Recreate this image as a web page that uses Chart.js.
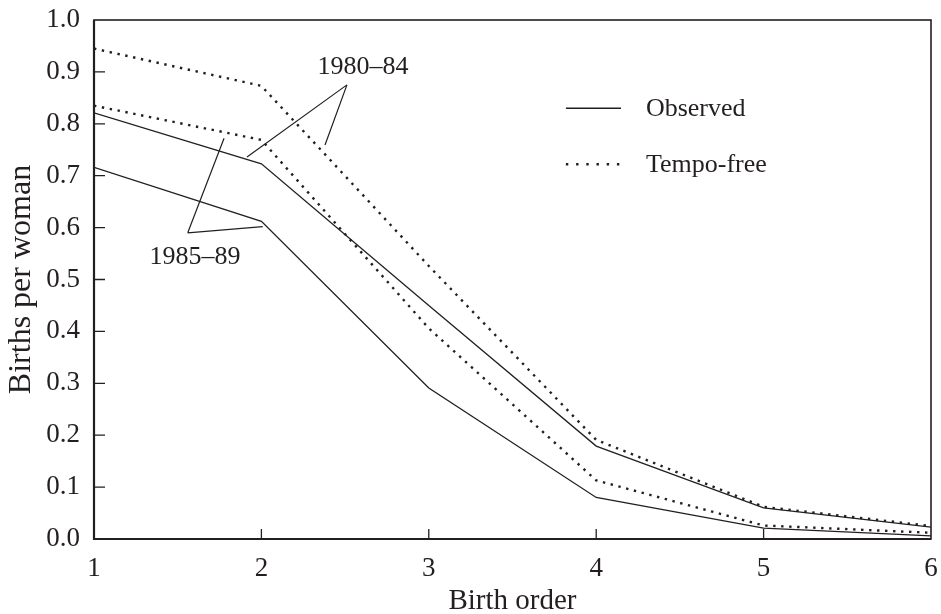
<!DOCTYPE html>
<html>
<head>
<meta charset="utf-8">
<script src="https://cdn.jsdelivr.net/npm/chart.js@4/dist/chart.umd.min.js"></script>
<style>
  html, body { margin: 0; padding: 0; background: #fff; }
  #wrap { width: 941px; height: 614px; }
</style>
</head>
<body>
<div id="wrap"><canvas id="chart"></canvas></div>
<script>
// birth order on x, births per woman on y
const birthOrder = [1, 2, 3, 4, 5, 6];
const observed8084 = [0.821, 0.723, 0.450, 0.179, 0.060, 0.023];
const tempoFree8084 = [0.945, 0.873, 0.526, 0.191, 0.062, 0.025];
const observed8589 = [0.716, 0.612, 0.291, 0.080, 0.021, 0.006];
const tempoFree8589 = [0.835, 0.769, 0.406, 0.113, 0.026, 0.012];

const yTicks = [0, 0.1, 0.2, 0.3, 0.4, 0.5, 0.6, 0.7, 0.8, 0.9, 1.0];
const xTicks = [1, 2, 3, 4, 5, 6];

const legendLabels = ['Observed', 'Tempo-free'];

// annotation anchors, in data units
const label8084 = { text: '1980–84', at: [2.607, 0.910], apex: [2.511, 0.875], ends: [[1.914, 0.736], [2.380, 0.759]] };
const label8589 = { text: '1985–89', at: [1.603, 0.543], apex: [1.560, 0.590], ends: [[1.777, 0.772], [2.008, 0.602]] };

const INK = '#231f20';
const FONT = 'Liberation Serif';
const DOTS = [2.4, 5.6];

const pts = ys => birthOrder.map((x, i) => ({ x: x, y: ys[i] }));

const solid = { borderColor: INK, borderWidth: 1.3, pointRadius: 0, fill: false, tension: 0 };
const dotted = { borderColor: INK, borderWidth: 2.4, borderDash: DOTS, borderCapStyle: 'butt', pointRadius: 0, fill: false, tension: 0 };

// keep the tick labels from pushing the plot area in
const noPad = s => { s.paddingLeft = 0; s.paddingRight = 0; s.paddingTop = 0; s.paddingBottom = 0; };

const frameAndNotes = {
  id: 'frameAndNotes',
  afterDraw(chart) {
    const { ctx, chartArea: a, scales: { x, y } } = chart;
    const px = v => x.getPixelForValue(v);
    const py = v => y.getPixelForValue(v);
    ctx.save();
    ctx.strokeStyle = INK;

    // frame
    ctx.lineWidth = 1.6;
    ctx.strokeRect(a.left, a.top, a.right - a.left, a.bottom - a.top);
    ctx.lineWidth = 2.2;
    ctx.beginPath();
    ctx.moveTo(a.left, a.top); ctx.lineTo(a.left, a.bottom); ctx.lineTo(a.right, a.bottom);
    ctx.stroke();

    // inward ticks
    ctx.lineWidth = 1.3;
    ctx.beginPath();
    yTicks.slice(1, -1).forEach(v => { ctx.moveTo(a.left, py(v)); ctx.lineTo(a.left + 11, py(v)); });
    xTicks.slice(1, -1).forEach(v => { ctx.moveTo(px(v), a.bottom); ctx.lineTo(px(v), a.bottom - 10); });
    ctx.stroke();

    // leader lines
    ctx.lineWidth = 1.2;
    [label8084, label8589].forEach(l => {
      ctx.beginPath();
      l.ends.forEach(e => {
        ctx.moveTo(px(l.apex[0]), py(l.apex[1]));
        ctx.lineTo(px(e[0]), py(e[1]));
      });
      ctx.stroke();
    });

    ctx.fillStyle = INK;
    ctx.font = '26px "' + FONT + '"';
    ctx.textAlign = 'center';
    ctx.textBaseline = 'middle';
    [label8084, label8589].forEach(l => ctx.fillText(l.text, px(l.at[0]), py(l.at[1])));

    // legend
    const lx0 = px(3.819), lx1 = px(4.148), tx = px(4.297);
    const rows = [0.830, 0.722];
    ctx.textAlign = 'left';
    rows.forEach((r, i) => {
      ctx.beginPath();
      if (i === 0) { ctx.lineWidth = 1.3; ctx.setLineDash([]); }
      else { ctx.lineWidth = 2.4; ctx.setLineDash([2.4, 7.8]); }
      ctx.moveTo(lx0, py(r)); ctx.lineTo(lx1, py(r));
      ctx.stroke();
      ctx.setLineDash([]);
      ctx.fillText(legendLabels[i], tx, py(r) + 1);
    });
    ctx.restore();
  }
};

new Chart(document.getElementById('chart'), {
  type: 'line',
  data: {
    datasets: [
      Object.assign({ label: 'Observed 1980–84', data: pts(observed8084) }, solid),
      Object.assign({ label: 'Tempo-free 1980–84', data: pts(tempoFree8084) }, dotted),
      Object.assign({ label: 'Observed 1985–89', data: pts(observed8589) }, solid),
      Object.assign({ label: 'Tempo-free 1985–89', data: pts(tempoFree8589) }, dotted)
    ]
  },
  options: {
    responsive: true,
    maintainAspectRatio: false,
    animation: false,
    layout: { padding: { top: 20, right: 10, bottom: 0, left: 0 } },
    plugins: { legend: { display: false }, tooltip: { enabled: false } },
    scales: {
      x: {
        type: 'linear',
        min: 1,
        max: 6,
        afterBuildTicks: s => { s.ticks = xTicks.map(v => ({ value: v })); },
        afterFit: s => { s.height = 75; noPad(s); },
        grid: { display: false, drawTicks: false },
        border: { display: false },
        ticks: { color: INK, padding: 14, maxRotation: 0, font: { family: FONT, size: 27 } },
        title: { display: true, text: 'Birth order', color: INK, padding: 0, font: { family: FONT, size: 29, lineHeight: 0.85 } }
      },
      y: {
        min: 0,
        max: 1,
        afterBuildTicks: s => { s.ticks = yTicks.map(v => ({ value: v })); },
        afterFit: s => { s.width = 94; noPad(s); },
        grid: { display: false, drawTicks: false },
        border: { display: false },
        ticks: { color: INK, padding: 14, callback: v => v.toFixed(1), font: { family: FONT, size: 27 } },
        title: { display: true, text: 'Births per woman', color: INK, padding: { top: 6, bottom: 0 }, font: { family: FONT, size: 32, lineHeight: 1 } }
      }
    }
  },
  plugins: [frameAndNotes]
});
</script>
</body>
</html>
